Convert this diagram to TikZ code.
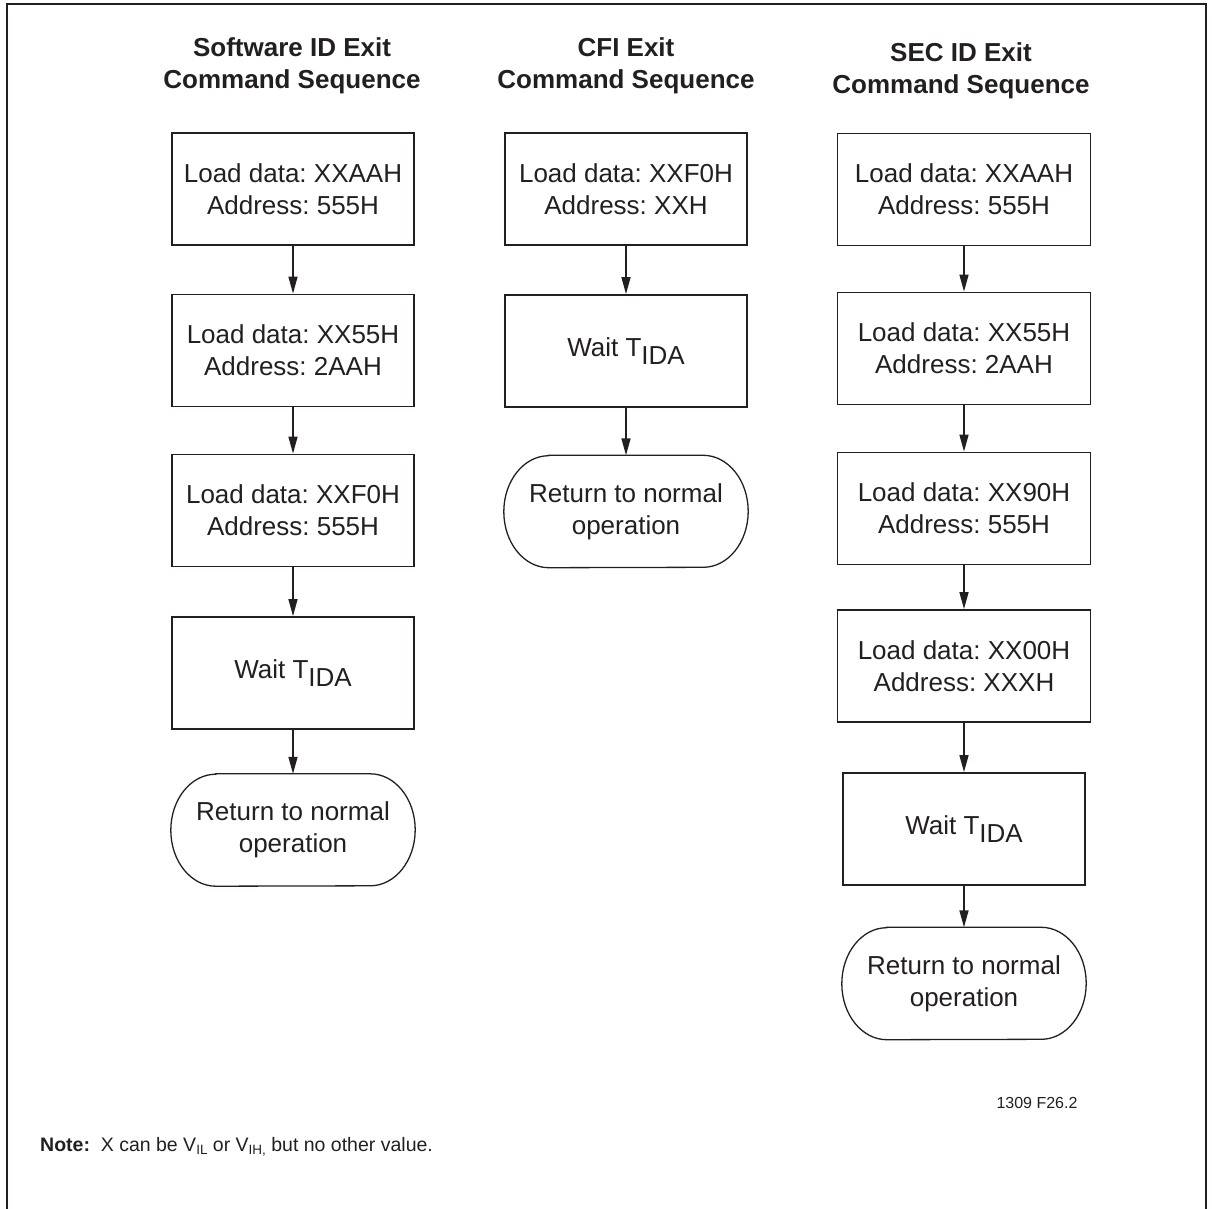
\documentclass[tikz,border=0pt]{standalone}
\usepackage{fontspec}
\setmainfont{Liberation Sans}
\usetikzlibrary{arrows.meta}
\frenchspacing

\definecolor{ink}{HTML}{231F20}
\newcommand{\tsub}[1]{\raisebox{-8pt}{#1}}
\newcommand{\nsub}[1]{\raisebox{-3.5pt}{\fontsize{13.5}{14}\selectfont #1}}
% stadium outline with elliptic ends around a node
\newcommand{\termline}[1]{%
  \draw[ink,line width=1.3pt] ([xshift=45pt]#1.north west) -- ([xshift=-45pt]#1.north east)
    arc[start angle=90,end angle=-90,x radius=45pt,y radius=56pt]
    -- ([xshift=45pt]#1.south west)
    arc[start angle=270,end angle=90,x radius=45pt,y radius=56pt] -- cycle;}

\begin{document}
\begin{tikzpicture}[x=1pt,y=1pt,
    every node/.style={text=ink},
    head/.style={align=center,font=\fontsize{26}{32}\selectfont\bfseries},
    stepbox/.style={draw=ink,line width=1.8pt,minimum width=242pt,minimum height=112pt,
      inner sep=0pt,align=center,font=\fontsize{26}{32}\selectfont},
    widebox/.style={stepbox,minimum width=253pt},
    termbox/.style={minimum width=244pt,minimum height=112pt,inner sep=0pt,
      align=center,font=\fontsize{26}{32}\selectfont},
    arr/.style={ink,line width=1.5pt,-{Triangle[length=17pt,width=9pt]}}]
  \useasboundingbox (0,0) rectangle (1212,-1209);
  \draw[ink,line width=2.5pt] (7,-1212) -- (7,-4) -- (1206,-4) -- (1206,-1212);

  % Software ID exit
  \node[head] (h1) at (292,-66) {Software ID Exit\\Command Sequence};
  \node[stepbox] (a1) at (293,-189)   {Load data: XXAAH\\Address: 555H};
  \node[stepbox] (a2) at (293,-350.5) {Load data: XX55H\\Address: 2AAH};
  \node[stepbox] (a3) at (293,-510.5) {Load data: XXF0H\\Address: 555H};
  \node[stepbox] (a4) at (293,-673)   {Wait T\tsub{IDA}};
  \node[termbox] (a5) at (293,-830)   {Return to normal\\operation};
  \termline{a5}
  \draw[arr] (a1) -- (a2);
  \draw[arr] (a2) -- (a3);
  \draw[arr] (a3) -- (a4);
  \draw[arr] (a4) -- (a5);

  % CFI exit
  \node[head] (h2) at (626,-66) {CFI Exit\\Command Sequence};
  \node[stepbox] (b1) at (626,-189)   {Load data: XXF0H\\Address: XXH};
  \node[stepbox] (b2) at (626,-351)   {Wait T\tsub{IDA}};
  \node[termbox] (b3) at (626,-511.5) {Return to normal\\operation};
  \termline{b3}
  \draw[arr] (b1) -- (b2);
  \draw[arr] (b2) -- (b3);

  % SEC ID exit
  \node[head] (h3) at (961,-71) {SEC ID Exit\\Command Sequence};
  \node[widebox] (c1) at (964,-189.5) {Load data: XXAAH\\Address: 555H};
  \node[widebox] (c2) at (964,-348.5) {Load data: XX55H\\Address: 2AAH};
  \node[widebox] (c3) at (964,-508.5) {Load data: XX90H\\Address: 555H};
  \node[widebox] (c4) at (964,-666)   {Load data: XX00H\\Address: XXXH};
  \node[stepbox] (c5) at (964,-829)   {Wait T\tsub{IDA}};
  \node[termbox] (c6) at (964,-983.5) {Return to normal\\operation};
  \termline{c6}
  \draw[arr] (c1) -- (c2);
  \draw[arr] (c2) -- (c3);
  \draw[arr] (c3) -- (c4);
  \draw[arr] (c4) -- (c5);
  \draw[arr] (c5) -- (c6);

  \node[anchor=base,font=\fontsize{16}{16}\selectfont] (fig) at (1037,-1108) {1309 F26.2};
  \node[anchor=base west,inner sep=0pt,font=\fontsize{19.5}{21}\selectfont] (note) at (40,-1151)
    {\textbf{Note:}\ \ X can be V\nsub{IL} or V\nsub{IH,} but no other value.};
\end{tikzpicture}
\end{document}
